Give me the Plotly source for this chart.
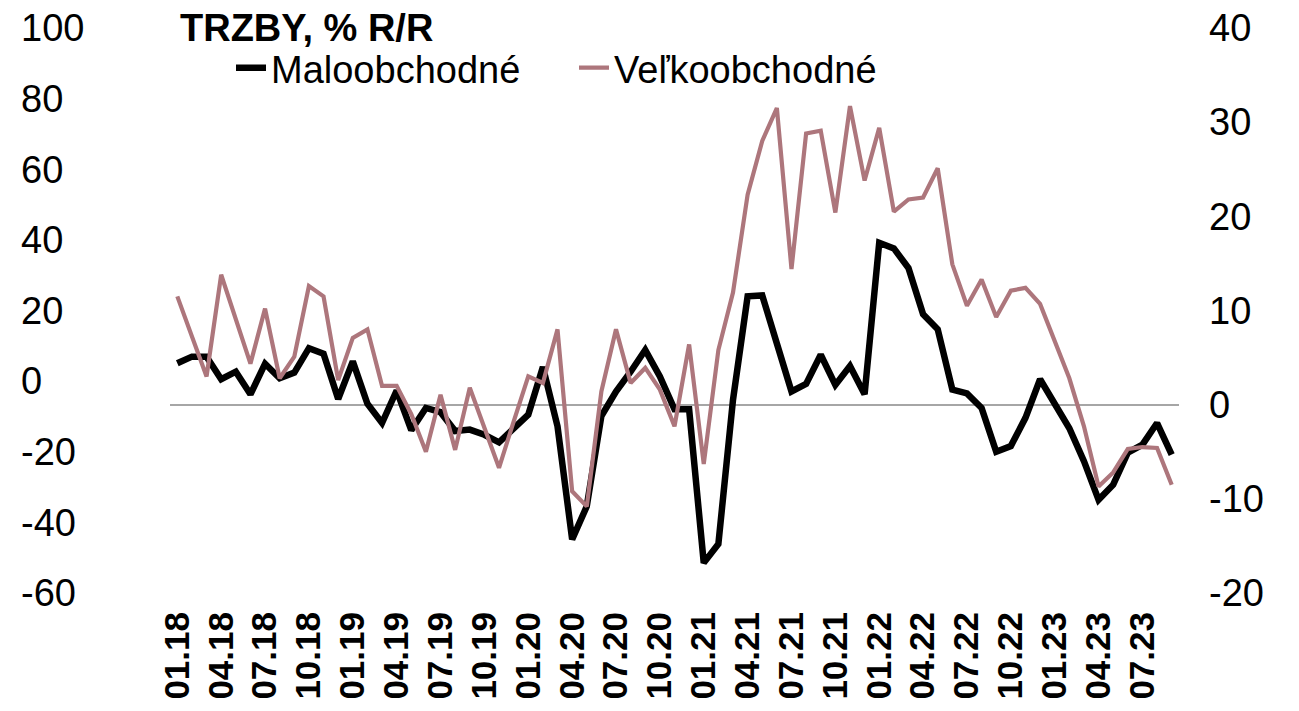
import plotly.graph_objects as go

# monthly categories 01.18 .. 09.23
months = [f"{m:02d}.{y:02d}" for y in range(18, 24) for m in range(1, 13)][:69]

retail = [4.4, 5.1, 5.1, 2.7, 3.5, 1.1, 4.35, 2.8, 3.4, 6.0, 5.4, 0.6,
          4.6, 0.1, -1.95, 1.5, -2.7, -0.35, -0.8, -2.8, -2.65, -3.2, -4.0, -2.5,
          -1.06, 4.0, -2.3, -14.3, -10.8, -1.2, 1.4, 3.5, 5.8, 3.0, -0.5, -0.5,
          -16.8, -14.8, 0.5, 11.5, 11.6, 6.5, 1.4, 2.2, 5.3, 2.1, 4.1, 1.1,
          17.2, 16.6, 14.5, 9.6, 8.0, 1.6, 1.2, -0.35, -5.0, -4.4, -1.4, 2.7,
          0.2, -2.5, -6.0, -10.1, -8.5, -5.1, -4.25, -1.95, -5.3]

wholesale = [11.5, 7.2, 3.0, 13.8, 9.1, 4.35, 10.2, 2.8, 5.1, 12.6, 11.5, 2.6,
             7.1, 8.0, 2.0, 2.0, -1.0, -5.0, 1.06, -4.8, 1.8, -2.4, -6.7, -1.8,
             3.0, 2.3, 8.0, -9.2, -10.8, 1.4, 8.0, 2.3, 3.9, 1.6, -2.3, 6.4,
             -6.3, 5.8, 11.9, 22.3, 28.0, 31.5, 14.4, 28.8, 29.1, 20.4, 31.7, 23.8,
             29.4, 20.5, 21.8, 22.0, 25.1, 14.9, 10.5, 13.3, 9.3, 12.1, 12.4, 10.7,
             6.7, 2.8, -2.3, -8.7, -7.2, -4.7, -4.5, -4.6, -8.5]

left_ticks = [100, 80, 60, 40, 20, 0, -20, -40, -60]
right_ticks = [40, 30, 20, 10, 0, -10, -20]

# the page body adds an 8px margin, so the figure is 8px smaller each way
W, H = 1291, 703
TOP, BOTTOM = 20, 585          # plot area, px from figure top
FONT = "Liberation Sans, Arial, sans-serif"


def py(p):
    # pixel row -> paper y
    return (BOTTOM - p) / (BOTTOM - TOP)


fig = go.Figure()
# keeps the left axis alive (no visible data on it)
fig.add_trace(go.Scatter(x=[months[0]], y=[None], yaxis="y", showlegend=False,
                         hoverinfo="skip"))
fig.add_trace(go.Scatter(x=months, y=retail, yaxis="y2", mode="lines",
                         name="Maloobchodné",
                         line=dict(color="#000000", width=6.5)))
fig.add_trace(go.Scatter(x=months, y=wholesale, yaxis="y2", mode="lines",
                         name="Veľkoobchodné",
                         line=dict(color="#AD767C", width=4.2)))

fig.update_layout(
    width=W, height=H,
    margin=dict(l=0, r=0, t=TOP, b=H - BOTTOM, autoexpand=False),
    paper_bgcolor="white", plot_bgcolor="white",
    font=dict(family=FONT, color="black"),
    title=dict(text="<b>TRZBY, % R/R</b>", x=172 / W, xanchor="left",
               y=1 - 20 / H, yanchor="middle",
               font=dict(size=38, family=FONT, color="black")),
    legend=dict(orientation="h", x=223 / W, xanchor="left",
                y=py(60), yanchor="middle",
                font=dict(size=38, family=FONT),
                entrywidth=298, entrywidthmode="pixels",
                bgcolor="rgba(0,0,0,0)"),
    xaxis=dict(type="category", domain=[162 / W, 1171 / W],
               range=[-0.5, len(months) - 0.5], automargin=False,
               tickmode="array", tickvals=months[::3], ticktext=months[::3],
               tickangle=-90, ticks="", showgrid=False, showline=False,
               zeroline=False, ticklabelstandoff=11,
               tickfont=dict(size=35, family=FONT, weight="bold")),
    yaxis=dict(range=[-60, 100], tickvals=left_ticks,
               ticktext=[str(v) for v in left_ticks], anchor="free",
               position=0, side="right", showgrid=False, zeroline=False,
               showline=False, ticks="", ticklabelstandoff=12, automargin=False,
               ticklabeloverflow="allow",
               tickfont=dict(size=38, family=FONT)),
    yaxis2=dict(range=[-20, 40], tickvals=right_ticks,
                ticktext=[str(v) for v in right_ticks], overlaying="y",
                side="right", anchor="x", showgrid=False, showline=False,
                ticks="", zeroline=True, zerolinecolor="#A6A6A6",
                zerolinewidth=1.5, ticklabelstandoff=29, automargin=False,
                ticklabeloverflow="allow",
                tickfont=dict(size=38, family=FONT)),
)

fig.write_html("out.html")
